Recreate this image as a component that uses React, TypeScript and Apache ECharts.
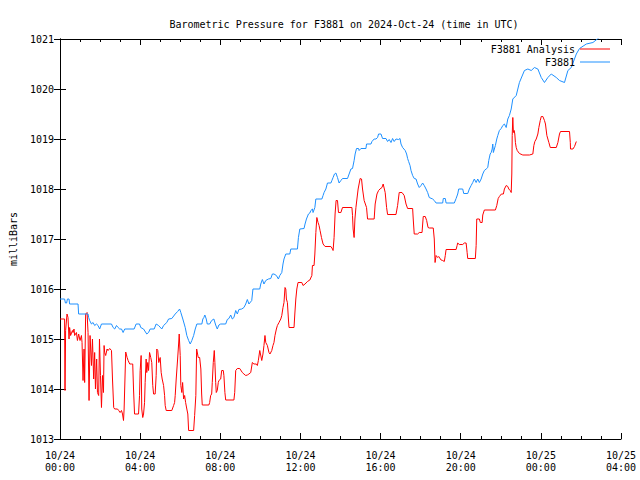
import React, { useEffect, useRef } from "react";
import * as echarts from "echarts";

const FONT = "DejaVu Sans Mono";

const titleText = "Barometric Pressure for F3881 on 2024-Oct-24 (time in UTC)";
const yAxisName = "milliBars";
const seriesNames = ["F3881 Analysis", "F3881"];

const xDates = ["10/24", "10/24", "10/24", "10/24", "10/24", "10/24", "10/25", "10/25"];
const xTimes = ["00:00", "04:00", "08:00", "12:00", "16:00", "20:00", "00:00", "04:00"];

// Analysis (red) — hours since 2024-10-24 00:00 UTC
const redHours = [
  0.0, 0.23, 0.25, 0.28, 0.35, 0.4, 0.45, 0.48, 0.53, 0.62, 0.65, 0.7, 0.73, 0.82, 0.87, 0.93, 1.0, 1.07, 1.1, 1.15,
  1.2, 1.23, 1.28, 1.35, 1.4, 1.45, 1.5, 1.57, 1.62, 1.68, 1.73, 1.77, 1.83, 1.87, 1.93, 1.97, 2.02, 2.07, 2.12, 2.17,
  2.2, 2.23, 2.28, 2.35, 2.4, 2.48, 2.57, 2.62, 2.68, 2.73, 2.87, 2.93, 3.0, 3.07, 3.12, 3.17, 3.2, 3.28, 3.35, 3.4,
  3.48, 3.57, 3.63, 3.67, 3.72, 3.92, 3.97, 4.0, 4.05, 4.08, 4.13, 4.17, 4.22, 4.25, 4.3, 4.33, 4.38, 4.42, 4.47, 4.53,
  4.58, 4.63, 4.67, 4.75, 4.8, 4.83, 4.88, 4.93, 5.0, 5.05, 5.1, 5.17, 5.22, 5.25, 5.3, 5.58, 5.67, 5.72, 5.75, 5.8,
  5.87, 5.92, 5.95, 6.0, 6.03, 6.08, 6.12, 6.17, 6.22, 6.27, 6.33, 6.38, 6.42, 6.67, 6.72, 6.78, 6.82, 6.85, 6.9, 6.97,
  7.03, 7.07, 7.1, 7.43, 7.47, 7.52, 7.57, 7.6, 7.65, 7.7, 7.73, 7.77, 7.8, 7.85, 7.9, 7.93, 8.02, 8.07, 8.15, 8.18,
  8.23, 8.27, 8.68, 8.72, 8.77, 8.85, 8.97, 9.1, 9.18, 9.27, 9.35, 9.43, 9.52, 9.6, 9.68, 9.8, 9.85, 9.9, 9.97, 10.07,
  10.13, 10.18, 10.23, 10.27, 10.35, 10.43, 10.48, 10.57, 10.63, 10.68, 10.73, 10.8, 10.85, 10.93, 11.02, 11.07, 11.13, 11.18, 11.23, 11.27,
  11.3, 11.35, 11.4, 11.43, 11.68, 11.72, 11.77, 11.82, 11.88, 12.07, 12.13, 12.23, 12.35, 12.47, 12.57, 12.6, 12.68, 12.72, 12.77, 12.82,
  12.88, 12.93, 12.98, 13.05, 13.13, 13.23, 13.52, 13.6, 13.63, 13.68, 13.73, 13.78, 13.85, 13.9, 14.02, 14.1, 14.57, 14.6, 14.63, 14.68,
  14.72, 14.77, 14.82, 14.88, 14.98, 15.05, 15.1, 15.18, 15.3, 15.35, 15.68, 15.73, 15.82, 15.9, 15.97, 16.07, 16.13, 16.23, 16.3, 16.35,
  16.77, 16.85, 16.93, 17.07, 17.18, 17.27, 17.35, 17.6, 17.63, 17.68, 17.85, 17.93, 18.07, 18.13, 18.23, 18.3, 18.37, 18.43, 18.63, 18.68,
  18.72, 18.77, 18.85, 18.9, 19.02, 19.1, 19.18, 19.23, 19.27, 19.77, 19.82, 19.85, 19.93, 20.1, 20.18, 20.27, 20.32, 20.35, 20.73, 20.77,
  20.8, 20.93, 20.98, 21.07, 21.1, 21.18, 21.73, 21.8, 21.87, 21.93, 22.03, 22.13, 22.18, 22.27, 22.35, 22.4, 22.47, 22.52, 22.55, 22.57,
  22.6, 22.63, 22.67, 22.7, 22.73, 22.77, 22.82, 22.93, 23.1, 23.43, 23.6, 23.65, 23.7, 23.77, 23.85, 23.9, 23.97, 24.02, 24.1, 24.18,
  24.23, 24.3, 24.4, 24.47, 24.77, 24.85, 24.93, 24.98, 25.43, 25.47, 25.48, 25.6, 25.68, 25.77,
];
const redValues = [
  1015.4, 1015.4, 1013.97, 1015.17, 1015.5, 1015.43, 1015.0, 1015.23, 1015.07, 1015.17, 1015.13, 1015.2, 1015.07, 1015.13, 1014.97, 1015.1, 1014.97, 1015.07, 1014.93, 1014.17,
  1014.8, 1014.13, 1015.5, 1015.53, 1015.13, 1013.77, 1015.07, 1014.47, 1015.0, 1014.2, 1014.73, 1014.0, 1014.6, 1013.93, 1013.87, 1015.0, 1014.27, 1013.63, 1014.27, 1013.93,
  1014.87, 1014.73, 1014.67, 1014.8, 1014.77, 1014.81, 1014.77, 1014.2, 1013.63, 1013.6, 1013.6, 1013.57, 1013.53, 1013.57, 1013.5, 1013.37, 1013.6, 1014.74, 1014.63, 1014.57,
  1014.5, 1014.5, 1014.5, 1014.0, 1013.5, 1013.5, 1013.87, 1014.37, 1014.67, 1013.6, 1013.43, 1013.5, 1013.73, 1014.13, 1014.6, 1014.33, 1014.53, 1014.37, 1014.73, 1014.63,
  1014.53, 1014.07, 1013.9, 1013.9, 1014.27, 1014.8, 1014.77, 1014.53, 1014.63, 1014.33, 1014.2, 1014.07, 1013.87, 1013.67, 1013.57, 1013.57, 1013.67, 1013.73, 1013.87, 1014.2,
  1014.6, 1014.9, 1015.1, 1014.67, 1014.07, 1013.93, 1014.13, 1013.8, 1013.87, 1013.73, 1013.6, 1013.5, 1013.17, 1013.17, 1013.47, 1013.87, 1014.8, 1014.8, 1014.63, 1014.63,
  1014.4, 1013.9, 1013.68, 1013.68, 1013.73, 1013.87, 1013.9, 1014.13, 1014.53, 1014.77, 1014.53, 1014.13, 1013.93, 1013.97, 1014.13, 1014.17, 1014.2, 1014.37, 1014.37, 1014.27,
  1013.93, 1013.78, 1013.78, 1013.93, 1014.37, 1014.41, 1014.41, 1014.33, 1014.3, 1014.27, 1014.28, 1014.3, 1014.33, 1014.53, 1014.5, 1014.5, 1014.47, 1014.57, 1014.77, 1014.57,
  1014.7, 1014.87, 1015.07, 1014.93, 1014.87, 1014.73, 1014.7, 1014.77, 1014.87, 1014.93, 1015.07, 1015.2, 1015.27, 1015.33, 1015.4, 1015.47, 1015.63, 1015.73, 1016.03, 1016.0,
  1015.8, 1015.73, 1015.4, 1015.23, 1015.23, 1015.5, 1015.8, 1016.0, 1016.13, 1016.13, 1016.07, 1016.1, 1016.15, 1016.18, 1016.27, 1016.47, 1016.47, 1016.7, 1017.13, 1017.43,
  1017.33, 1017.27, 1017.17, 1017.03, 1016.9, 1016.85, 1016.85, 1016.8, 1016.77, 1017.03, 1017.5, 1017.77, 1017.77, 1017.53, 1017.53, 1017.63, 1017.63, 1017.47, 1017.2, 1017.03,
  1017.4, 1017.63, 1017.8, 1018.0, 1018.21, 1018.2, 1018.0, 1017.77, 1017.63, 1017.4, 1017.4, 1017.7, 1017.9, 1017.97, 1018.0, 1018.03, 1018.1, 1017.93, 1017.63, 1017.49,
  1017.49, 1017.67, 1017.93, 1017.93, 1017.87, 1017.7, 1017.61, 1017.61, 1017.4, 1017.1, 1017.1, 1017.13, 1017.13, 1017.45, 1017.45, 1017.37, 1017.23, 1017.22, 1017.22, 1017.0,
  1016.53, 1016.67, 1016.63, 1016.65, 1016.58, 1016.57, 1016.55, 1016.67, 1016.79, 1016.79, 1016.87, 1016.92, 1016.89, 1016.89, 1016.92, 1016.92, 1016.73, 1016.61, 1016.61, 1016.87,
  1017.4, 1017.4, 1017.33, 1017.33, 1017.48, 1017.58, 1017.58, 1017.67, 1017.81, 1017.85, 1017.9, 1017.9, 1018.0, 1018.07, 1018.05, 1018.0, 1017.97, 1017.93, 1018.3, 1019.07,
  1019.43, 1019.13, 1019.17, 1019.1, 1018.93, 1018.83, 1018.77, 1018.71, 1018.68, 1018.68, 1018.7, 1018.87, 1018.95, 1019.0, 1019.1, 1019.23, 1019.37, 1019.45, 1019.45, 1019.37,
  1019.3, 1019.07, 1018.93, 1018.83, 1018.83, 1018.93, 1019.1, 1019.15, 1019.15, 1018.93, 1018.8, 1018.8, 1018.85, 1018.95,
];

// Station F3881 (blue)
const blueHours = [
  0.0, 0.23, 0.27, 0.33, 0.37, 0.45, 0.48, 0.9, 0.93, 1.4, 1.43, 1.48, 1.57, 1.65, 1.73, 1.82, 1.9, 1.98, 2.07, 2.57,
  2.65, 2.73, 2.82, 2.9, 2.98, 3.07, 3.15, 3.23, 3.7, 3.8, 3.97, 4.03, 4.17, 4.33, 4.42, 4.5, 4.7, 4.8, 4.92, 5.08,
  5.17, 5.33, 5.42, 5.58, 5.75, 5.87, 5.97, 6.03, 6.13, 6.25, 6.33, 6.42, 6.5, 6.58, 6.67, 6.75, 6.83, 7.08, 7.13, 7.18,
  7.23, 7.3, 7.35, 7.47, 7.57, 7.68, 7.77, 7.85, 7.93, 8.02, 8.27, 8.35, 8.43, 8.52, 8.6, 8.68, 8.77, 8.85, 8.93, 9.07,
  9.18, 9.27, 9.35, 9.43, 9.57, 9.63, 9.97, 10.02, 10.1, 10.18, 10.27, 10.4, 10.52, 10.6, 10.68, 10.8, 10.9, 10.97, 11.07, 11.13,
  11.18, 11.27, 11.47, 11.52, 11.85, 11.9, 11.97, 12.18, 12.23, 12.3, 12.4, 12.47, 12.52, 12.6, 12.63, 12.72, 12.77, 13.07, 13.13, 13.18,
  13.27, 13.35, 13.52, 13.57, 13.63, 13.7, 13.77, 13.85, 13.93, 14.02, 14.1, 14.35, 14.43, 14.52, 14.6, 14.68, 14.73, 14.8, 14.9, 14.93,
  15.02, 15.27, 15.3, 15.52, 15.57, 15.68, 15.77, 15.85, 15.9, 16.02, 16.1, 16.27, 16.35, 16.43, 16.52, 16.6, 16.68, 16.77, 16.9, 16.97,
  17.02, 17.1, 17.23, 17.3, 17.35, 17.4, 17.47, 17.52, 17.6, 17.68, 17.77, 17.85, 17.93, 18.02, 18.1, 18.18, 18.27, 18.35, 18.43, 18.6,
  18.68, 18.77, 19.1, 19.13, 19.23, 19.27, 19.68, 19.77, 19.85, 19.9, 20.1, 20.15, 20.35, 20.43, 20.52, 20.6, 20.68, 20.77, 20.85, 20.93,
  21.02, 21.1, 21.18, 21.27, 21.35, 21.4, 21.47, 21.52, 21.57, 21.6, 21.63, 21.68, 21.73, 21.8, 21.85, 21.93, 22.02, 22.1, 22.18, 22.27,
  22.35, 22.43, 22.52, 22.6, 22.77, 22.93, 23.18, 23.35, 23.52, 23.68, 23.85, 24.02, 24.18, 24.35, 24.52, 24.77, 24.93, 25.18, 25.35, 25.52,
  25.77, 25.93, 26.27, 26.6, 26.85, 27.2,
];
const blueValues = [
  1015.8, 1015.8, 1015.72, 1015.72, 1015.8, 1015.8, 1015.7, 1015.7, 1015.5, 1015.5, 1015.43, 1015.37, 1015.3, 1015.33, 1015.27, 1015.3, 1015.27, 1015.2, 1015.3, 1015.3,
  1015.23, 1015.2, 1015.27, 1015.23, 1015.2, 1015.2, 1015.13, 1015.2, 1015.2, 1015.3, 1015.3, 1015.23, 1015.2, 1015.1, 1015.13, 1015.2, 1015.2, 1015.3, 1015.27, 1015.2,
  1015.27, 1015.33, 1015.4, 1015.41, 1015.5, 1015.55, 1015.6, 1015.53, 1015.4, 1015.23, 1015.07, 1014.97, 1014.9, 1014.97, 1015.07, 1015.2, 1015.3, 1015.3, 1015.4, 1015.43,
  1015.48, 1015.4, 1015.3, 1015.3, 1015.37, 1015.4, 1015.28, 1015.2, 1015.28, 1015.3, 1015.3, 1015.39, 1015.41, 1015.48, 1015.4, 1015.43, 1015.57, 1015.5, 1015.59, 1015.6,
  1015.63, 1015.7, 1015.79, 1015.7, 1015.77, 1016.0, 1016.0, 1016.1, 1016.19, 1016.1, 1016.17, 1016.2, 1016.21, 1016.3, 1016.3, 1016.27, 1016.2, 1016.27, 1016.33, 1016.5,
  1016.6, 1016.7, 1016.7, 1016.8, 1016.8, 1017.03, 1017.2, 1017.21, 1017.3, 1017.4, 1017.5, 1017.52, 1017.57, 1017.6, 1017.53, 1017.63, 1017.8, 1017.8, 1017.87, 1017.93,
  1018.0, 1018.12, 1018.12, 1018.17, 1018.23, 1018.3, 1018.32, 1018.23, 1018.12, 1018.17, 1018.21, 1018.21, 1018.3, 1018.4, 1018.41, 1018.57, 1018.7, 1018.81, 1018.81, 1018.77,
  1018.81, 1018.81, 1018.9, 1018.9, 1018.95, 1019.0, 1019.0, 1019.03, 1019.1, 1019.1, 1019.01, 1019.01, 1018.95, 1018.99, 1018.93, 1019.01, 1018.95, 1019.0, 1018.99, 1019.01,
  1018.9, 1018.83, 1018.77, 1018.7, 1018.61, 1018.55, 1018.47, 1018.37, 1018.27, 1018.21, 1018.2, 1018.1, 1018.03, 1018.07, 1018.12, 1018.07, 1018.0, 1017.93, 1017.83, 1017.8,
  1017.77, 1017.72, 1017.72, 1017.81, 1017.81, 1017.72, 1017.72, 1017.81, 1017.9, 1018.0, 1018.0, 1017.91, 1017.91, 1018.0, 1018.07, 1018.13, 1018.2, 1018.13, 1018.2, 1018.13,
  1018.2, 1018.3, 1018.37, 1018.4, 1018.43, 1018.57, 1018.7, 1018.73, 1018.8, 1018.9, 1018.73, 1018.8, 1018.87, 1019.0, 1019.07, 1019.17, 1019.21, 1019.27, 1019.3, 1019.23,
  1019.4, 1019.47, 1019.6, 1019.8, 1019.87, 1020.13, 1020.37, 1020.4, 1020.37, 1020.43, 1020.4, 1020.23, 1020.13, 1020.23, 1020.3, 1020.23, 1020.17, 1020.13, 1020.37, 1020.43,
  1020.7, 1020.81, 1020.9, 1020.93, 1021.01, 1021.1,
];

const RED = "#ff0000";
const BLUE = "#1e90ff";

export default function App() {
  const ref = useRef<HTMLDivElement>(null);

  useEffect(() => {
    if (!ref.current) return;
    const chart = echarts.init(ref.current, null, { renderer: "svg" });

    const red = redHours.map((h, i) => [h, redValues[i]]);
    const blue = blueHours.map((h, i) => [h, blueValues[i]]);

    const txt = { fontFamily: FONT, fontSize: 10, color: "#000" };
    const axisLine = { show: true, lineStyle: { color: "#000", width: 1 } };
    const xLabel = (v: number) => {
      const i = Math.round(v / 4);
      return xDates[i] + "\n" + xTimes[i];
    };

    const xCommon = {
      type: "value",
      min: 0,
      max: 28,
      interval: 4,
      axisLine,
      axisTick: { show: true, inside: true, length: 6, lineStyle: { color: "#000" } },
      minorTick: { show: true, splitNumber: 4, length: 3, lineStyle: { color: "#000" } },
      splitLine: { show: false },
      minorSplitLine: { show: false },
    };
    const yCommon = {
      type: "value",
      min: 1013,
      max: 1021,
      interval: 1,
      axisLine,
      axisTick: { show: true, inside: true, length: 6, lineStyle: { color: "#000" } },
      splitLine: { show: false },
    };

    const legendCommon = {
      orient: "horizontal",
      right: 30,
      align: "right",
      padding: 0,
      icon: "rect",
      itemWidth: 30,
      itemHeight: 1,
      selectedMode: false,
      textStyle: { ...txt },
    };

    chart.setOption({
      animation: false,
      backgroundColor: "#ffffff",
      textStyle: { fontFamily: FONT },
      title: {
        text: titleText,
        left: 339,
        top: 14,
        textAlign: "center",
        textStyle: { ...txt, fontWeight: "normal" },
      },
      legend: [
        { ...legendCommon, top: 44, data: [seriesNames[0]] },
        { ...legendCommon, top: 57, data: [seriesNames[1]] },
      ],
      grid: { left: 58, right: 19, top: 39, bottom: 41 },
      xAxis: [
        {
          ...xCommon,
          position: "bottom",
          axisLabel: { ...txt, formatter: xLabel, lineHeight: 12, margin: 10 },
        },
        { ...xCommon, position: "top", axisLabel: { show: false } },
      ],
      yAxis: [
        {
          ...yCommon,
          position: "left",
          name: yAxisName,
          nameLocation: "middle",
          nameGap: 42,
          nameTextStyle: { ...txt },
          axisLabel: { ...txt, margin: 6, formatter: (v: number) => String(v) },
        },
        { ...yCommon, position: "right", axisLabel: { show: false } },
      ],
      series: [
        {
          name: seriesNames[0],
          type: "line",
          data: red,
          symbol: "none",
          showSymbol: false,
          lineStyle: { color: RED, width: 1 },
          itemStyle: { color: RED, borderColor: RED, borderWidth: 0 },
          clip: true,
        },
        {
          name: seriesNames[1],
          type: "line",
          data: blue,
          symbol: "none",
          showSymbol: false,
          lineStyle: { color: BLUE, width: 1 },
          itemStyle: { color: BLUE, borderColor: BLUE, borderWidth: 0 },
          clip: true,
        },
      ],
    });

    return () => chart.dispose();
  }, []);

  return (
    <div
      ref={ref}
      style={{ position: "absolute", left: 0, top: 0, width: 640, height: 480, background: "#fff" }}
    />
  );
}
